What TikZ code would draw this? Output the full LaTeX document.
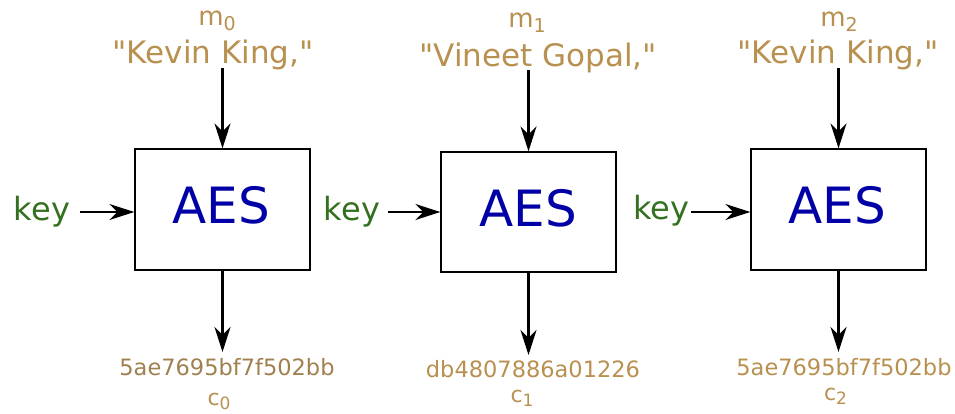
\documentclass[tikz,border=0pt]{standalone}
\usepackage{fontspec}
\setmainfont{DejaVu Sans}[Ligatures=TeXOff]
\usetikzlibrary{arrows.meta}
\definecolor{msgtan}{HTML}{B8904F}
\definecolor{msgtandark}{HTML}{A0804F}
\definecolor{keygreen}{HTML}{33701F}
\definecolor{aesblue}{HTML}{0000A6}
\newcommand{\msub}[1]{\raisebox{-5pt}{\fontsize{19}{19}\selectfont #1}}
\newcommand{\csub}[1]{\raisebox{-4.5pt}{\fontsize{17}{17}\selectfont #1}}
\newcommand{\qq}{{\char34}}
\begin{document}
\begin{tikzpicture}[x=1pt,y=-1pt,
  aesbox/.style={draw, line width=1.3pt, minimum width=175pt, minimum height=121pt, inner sep=0pt},
  arr/.style={line width=2.2pt, -{Stealth[length=25pt,width=16pt,inset=8pt]}},
  lbl/.style={inner sep=0pt, anchor=base, text=msgtan},
  quote/.style={lbl, font=\fontsize{31}{31}\selectfont},
  mlab/.style={lbl, font=\fontsize{26}{26}\selectfont},
  hex/.style={lbl, font=\fontsize{22.5}{22.5}\selectfont},
  clab/.style={lbl, font=\fontsize{22}{22}\selectfont},
  keylab/.style={inner sep=0pt, anchor=base, text=keygreen, font=\fontsize{32}{32}\selectfont},
  aeslab/.style={inner sep=0pt, anchor=base, text=aesblue, font=\fontsize{50}{50}\selectfont}
]
\useasboundingbox (0,0) rectangle (955,413);

% boxes
\node[aesbox] (box1) at (222.5,209.5) {};
\node[aesbox, minimum height=120pt] (box2) at (528.5,212) {};
\node[aesbox] (box3) at (838.5,209.5) {};

\node[aeslab] (aes1) at (221,223) {AES};
\node[aeslab] (aes2) at (528,226) {AES};
\node[aeslab] (aes3) at (837.5,223) {AES};

% top labels
\node[mlab] (m0) at (217,25) {m\msub{0}};
\node[quote] (q0) at (213,63) {\qq Kevin King,\qq};
\node[mlab] (m1) at (527,27) {m\msub{1}};
\node[quote] (q1) at (538,66) {\qq Vineet Gopal,\qq};
\node[mlab] (m2) at (839,26) {m\msub{2}};
\node[quote] (q2) at (838,63) {\qq Kevin King,\qq};

% key labels
\node[keylab] (key1) at (42,220) {key};
\node[keylab] (key2) at (352,220) {key};
\node[keylab] (key3) at (661,219) {key};

% bottom labels
\node[hex, text=msgtandark] (h0) at (227,375) {5ae7695bf7f502bb};
\node[clab] (c0) at (219,405) {c\csub{0}};
\node[hex] (h1) at (533,377) {db4807886a01226};
\node[clab] (c1) at (522,402) {c\csub{1}};
\node[hex] (h2) at (844,375) {5ae7695bf7f502bb};
\node[clab] (c2) at (835.5,400) {c\csub{2}};

% coordinates
\coordinate (t1) at (222.5,68);
\coordinate (t2) at (528.5,70);
\coordinate (t3) at (838.5,68);
\coordinate (b1) at (222.5,352);
\coordinate (b2) at (528.5,355);
\coordinate (b3) at (838.5,352);
\coordinate (k1) at (80,212);
\coordinate (k2) at (388,212);
\coordinate (k3) at (691,212);

% arrows
\draw[arr] (t1) -- (box1.north);
\draw[arr] (t2) -- (box2.north);
\draw[arr] (t3) -- (box3.north);
\draw[arr] (box1.south) -- (b1);
\draw[arr] (box2.south) -- (b2);
\draw[arr] (box3.south) -- (b3);
\draw[arr] (k1) -- (k1 -| box1.west);
\draw[arr] (k2) -- (k2 -| box2.west);
\draw[arr] (k3) -- (k3 -| box3.west);
\end{tikzpicture}
\end{document}
